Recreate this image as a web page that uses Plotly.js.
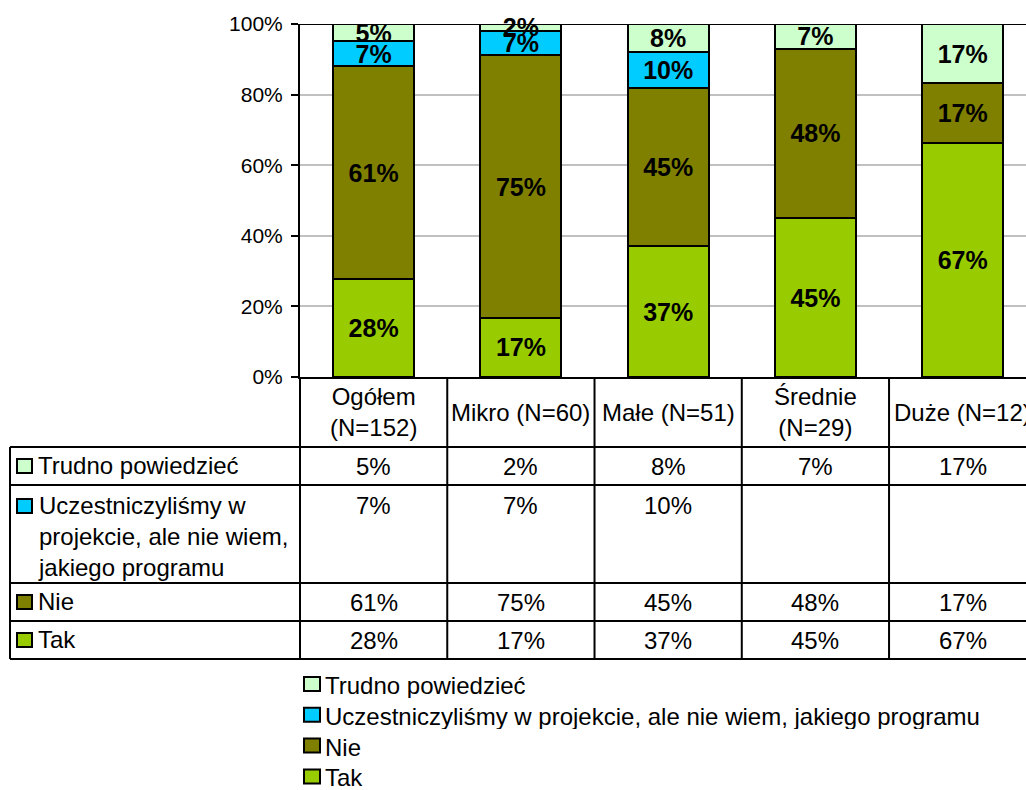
<!DOCTYPE html>
<html>
<head>
<meta charset="utf-8">
<script src="https://cdn.plot.ly/plotly-3.0.1.min.js"></script>
<style>html,body{margin:0;padding:0;background:#fff;overflow:hidden;}#chart{width:1026px;height:790px;position:absolute;left:0;top:0;}</style>
</head>
<body>
<div id="chart"></div>
<script>
// ---- data ----
const categories = ['Ogółem (N=152)', 'Mikro (N=60)', 'Małe (N=51)', 'Średnie (N=29)', 'Duże (N=12)'];
const headerLabels = ['Ogółem<br>(N=152)', 'Mikro (N=60)', 'Małe (N=51)', 'Średnie<br>(N=29)', 'Duże (N=12)'];
const seriesNames = ['Tak', 'Nie', 'Uczestniczyliśmy w projekcie, ale nie wiem, jakiego programu', 'Trudno powiedzieć'];
const rowLabels = ['Tak', 'Nie', 'Uczestniczyliśmy w<br>projekcie, ale nie wiem,<br>jakiego programu', 'Trudno powiedzieć'];
const tak = [28, 17, 37, 45, 67];
const nie = [61, 75, 45, 48, 17];
const ucz = [7, 7, 10, null, null];
const trudno = [5, 2, 8, 7, 17];
const yTickVals = [0, 20, 40, 60, 80, 100];

// ---- styles ----
const colors = ['#99CC00', '#808000', '#00CCFF', '#CCFFCC'];
const series = [tak, nie, ucz, trudno];
const FONT = 'Arial, "Liberation Sans", sans-serif';

// layout geometry (pixels)
const W = 1026, H = 790, L = 300, T = 24, PB = 377;
const plotH = PB - T, plotW = W - L;
const xMin = -0.5, xMax = 4.43;
const py = p => (PB - p) / plotH;          // pixel y -> paper y
const px = p => (p - L) / plotW;           // pixel x -> paper x
const colPaper = k => (k - 0.5 - xMin) / (xMax - xMin); // category boundary -> paper x

const traces = series.map((vals, i) => ({
  type: 'bar',
  name: seriesNames[i],
  x: categories,
  y: vals,
  text: vals.map(v => v == null ? '' : v + '%'),
  textposition: 'inside',
  insidetextanchor: 'middle',
  textangle: 0,
  cliponaxis: false,
  textfont: {family: FONT, size: 25, color: '#000', weight: 'bold'},
  marker: {color: colors[i], line: {color: '#000', width: 2}},
  width: 0.55,
  hoverinfo: 'skip',
  showlegend: false
}));

// ---- table ----
const rowOrder = [3, 2, 1, 0]; // Trudno, Ucz, Nie, Tak
const rowBounds = [447, 485, 583, 621, 659];
const rowTextY = [466, 506, 602, 640];
const shapes = [];
const annotations = [];
const lineStyle = {color: '#000', width: 2};
const TFS = 24;

for (let k = 0; k <= categories.length; k++) {
  shapes.push({type: 'line', xref: 'paper', yref: 'paper', x0: colPaper(k), x1: colPaper(k), y0: py(PB), y1: py(659), line: lineStyle});
}
shapes.push({type: 'line', xref: 'paper', yref: 'paper', x0: px(10), x1: px(10), y0: py(447), y1: py(659), line: lineStyle});
rowBounds.forEach(b => {
  shapes.push({type: 'line', xref: 'paper', yref: 'paper', x0: px(10), x1: 1.05, y0: py(b), y1: py(b), line: lineStyle});
});
// top line at 100%
shapes.push({type: 'line', xref: 'paper', yref: 'y', x0: 0, x1: 1.02, y0: 100, y1: 100, line: lineStyle});

headerLabels.forEach((lab, i) => {
  annotations.push({xref: 'x', yref: 'paper', x: i, y: py(412), text: lab, showarrow: false,
    xanchor: 'center', yanchor: 'middle', align: 'center', font: {family: FONT, size: TFS, color: '#000'}});
});
rowOrder.forEach((si, r) => {
  const yc = rowTextY[r];
  shapes.push({type: 'rect', xref: 'paper', yref: 'paper', x0: px(17), x1: px(32), y0: py(yc - 7), y1: py(yc + 7),
    fillcolor: colors[si], line: {color: '#000', width: 2}});
  annotations.push({xref: 'paper', yref: 'paper', x: px(36), y: py(yc - 16), text: rowLabels[si], showarrow: false,
    xanchor: 'left', yanchor: 'top', align: 'left', font: {family: FONT, size: TFS, color: '#000'}});
  series[si].forEach((v, i) => {
    if (v == null) return;
    annotations.push({xref: 'x', yref: 'paper', x: i, y: py(yc), text: v + '%', showarrow: false,
      xanchor: 'center', yanchor: 'middle', font: {family: FONT, size: TFS, color: '#000'}});
  });
});

// ---- legend (below the table) ----
const legendTop = 684, legendStep = 30.8;
rowOrder.forEach((si, r) => {
  const yc = legendTop + r * legendStep;
  shapes.push({type: 'rect', xref: 'paper', yref: 'paper', x0: px(304), x1: px(320), y0: py(yc - 7), y1: py(yc + 7),
    fillcolor: colors[si], line: {color: '#000', width: 2}});
  annotations.push({xref: 'paper', yref: 'paper', x: px(323), y: py(yc + 1), text: seriesNames[si], showarrow: false,
    xanchor: 'left', yanchor: 'middle', align: 'left', height: 26, valign: 'middle',
    font: {family: FONT, size: TFS, color: '#000'}});
});

const layout = {
  width: W, height: H,
  margin: {l: L, r: 0, t: T, b: H - PB, pad: 0, autoexpand: false},
  paper_bgcolor: '#fff', plot_bgcolor: '#fff',
  barmode: 'stack',
  barnorm: 'percent',
  uniformtext: {mode: 'show', minsize: 25},
  showlegend: false,
  xaxis: {
    type: 'category', range: [xMin, xMax], showticklabels: false, ticks: '',
    showgrid: false, zeroline: false, showline: true, linecolor: '#000', linewidth: 2, fixedrange: true
  },
  yaxis: {
    range: [0, 100], tickvals: yTickVals, ticktext: yTickVals.map(v => v + '%'),
    ticks: 'outside', ticklen: 7, tickwidth: 2, tickcolor: '#000', ticklabelstandoff: 4,
    showline: true, linecolor: '#000', linewidth: 2,
    showgrid: true, gridcolor: '#C0C0C0', gridwidth: 2, zeroline: false,
    tickfont: {family: FONT, size: 21, color: '#000'}, fixedrange: true
  },
  shapes: shapes,
  annotations: annotations
};

Plotly.newPlot('chart', traces, layout, {displayModeBar: false, staticPlot: true});
</script>
</body>
</html>
